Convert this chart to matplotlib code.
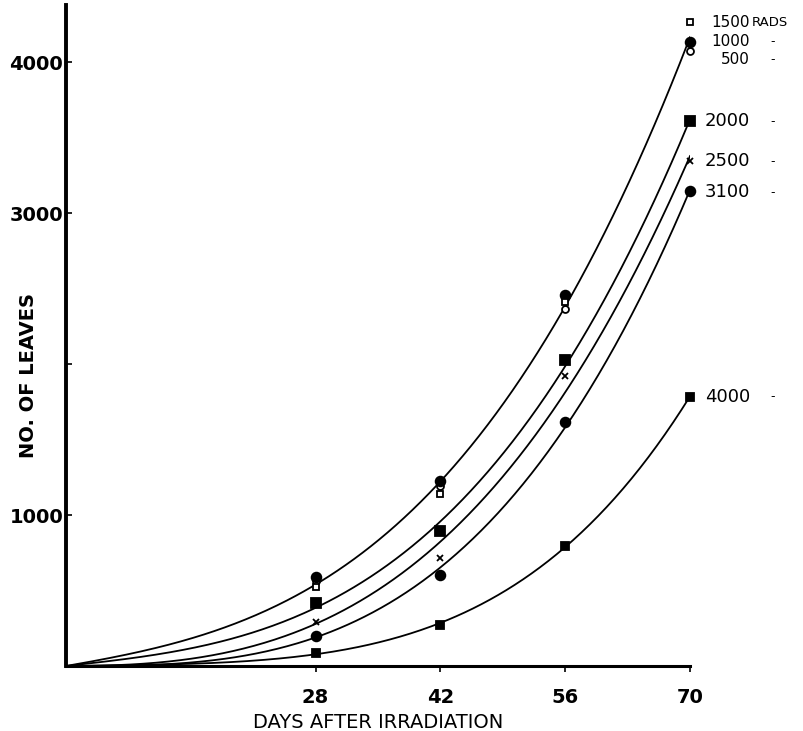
import itertools

import matplotlib
matplotlib.use("agg")
import matplotlib.pyplot as plt
import numpy as np

plt.rcParams.update({
    "font.family": ["DejaVu Sans"],
    "font.size": 13,
})

# --- data (leaves per treatment) -----------------------------------------
days = np.array([28, 42, 56, 70])
doses = ["500", "1000", "1500", "2000", "2500", "3100", "4000"]
leaves_500 = np.array([560, 1190, 2362, 4073])
leaves_1000 = np.array([590, 1227, 2454, 4133])
leaves_1500 = np.array([524, 1141, 2410, 4265])
leaves_2000 = np.array([418, 896, 2030, 3609])
leaves_2500 = np.array([292, 716, 1924, 3343])
leaves_3100 = np.array([199, 604, 1619, 3144])
leaves_4000 = np.array([86, 272, 796, 1784])

series = {
    "500": leaves_500, "1000": leaves_1000, "1500": leaves_1500,
    "2000": leaves_2000, "2500": leaves_2500, "3100": leaves_3100,
    "4000": leaves_4000,
}
markers = {
    "500": dict(marker="o", mfc="white", ms=5),
    "1000": dict(marker="o", mfc="black", ms=7),
    "1500": dict(marker="s", mfc="white", ms=5),
    "2000": dict(marker="s", mfc="black", ms=7),
    "2500": dict(marker="x", mfc="black", ms=5),
    "3100": dict(marker="o", mfc="black", ms=7),
    "4000": dict(marker="s", mfc="black", ms=6),
}
# fitted curves: the low-dose group shares one curve
curve_groups = [["500", "1000", "1500"], ["2000"], ["2500"], ["3100"], ["4000"]]


def fit_curve(xs, ys, xx):
    # polynomial through the origin (powers 1..4), all coefficients >= 0
    A = np.column_stack([xs ** p for p in range(1, 5)]).astype(float)
    best, best_err = None, np.inf
    for k in range(1, 5):
        for cols in itertools.combinations(range(4), k):
            coef, *_ = np.linalg.lstsq(A[:, cols], ys, rcond=None)
            if np.any(coef < 0):
                continue
            err = np.sum((A[:, cols] @ coef - ys) ** 2)
            if err < best_err:
                full = np.zeros(4)
                full[list(cols)] = coef
                best, best_err = full, err
    return sum(best[p - 1] * xx ** p for p in range(1, 5))


fig = plt.figure(figsize=(8.04, 7.31), dpi=100)
ax = fig.add_axes([66 / 804, 1 - 666 / 731, 624 / 804, 661 / 731])

xx = np.linspace(0, 70, 300)
for grp in curve_groups:
    xs = np.concatenate([days for _ in grp])
    ys = np.concatenate([series[g] for g in grp])
    ax.plot(xx, fit_curve(xs, ys, xx), color="black", lw=1.3)

for d in doses:
    ax.plot(days, series[d], ls="none", color="black", mec="black", mew=1.3,
            clip_on=False, zorder=3, **markers[d])

# labels at the right-hand end of each series
label_y = {"1500": 4265, "1000": 4133, "500": 4020, "2000": 3609,
           "2500": 3343, "3100": 3138, "4000": 1784}
for d, yv in label_y.items():
    fs = 11 if d in ("500", "1000", "1500") else 13
    ax.annotate(d, (70, yv), xytext=(60, 0), textcoords="offset pixels",
                ha="right", va="center", fontsize=fs, annotation_clip=False)
    if d != "1500":
        ax.annotate("-", (70, yv), xytext=(83, 0), textcoords="offset pixels",
                    ha="center", va="center", fontsize=9, annotation_clip=False)
ax.annotate("RADS", (70, label_y["1500"]), xytext=(62, 0),
            textcoords="offset pixels", ha="left", va="center", fontsize=9.5,
            annotation_clip=False)

ax.set_xlim(0, 70)
ax.set_ylim(0, 4378)
ax.set_xticks(days)
ax.set_xticklabels([str(d) for d in days], fontweight="bold", fontsize=14)
ax.set_yticks([1000, 2000, 3000, 4000])
ax.set_yticklabels(["1000", "", "3000", "4000"], fontweight="bold", fontsize=14)
ax.tick_params(axis="x", direction="out", length=4, width=1.2, pad=12)
ax.tick_params(axis="y", direction="in", length=4, width=1.2, pad=2)
for side in ("top", "right"):
    ax.spines[side].set_visible(False)
ax.spines["left"].set_linewidth(2.8)
ax.spines["bottom"].set_linewidth(2.2)

ax.set_xlabel("DAYS AFTER IRRADIATION", fontsize=14, labelpad=4)
ax.set_ylabel("NO. OF LEAVES", fontsize=14, fontweight="bold")
ax.yaxis.set_label_coords(-0.045, 0.44)

fig.savefig("out.png", dpi=100)
